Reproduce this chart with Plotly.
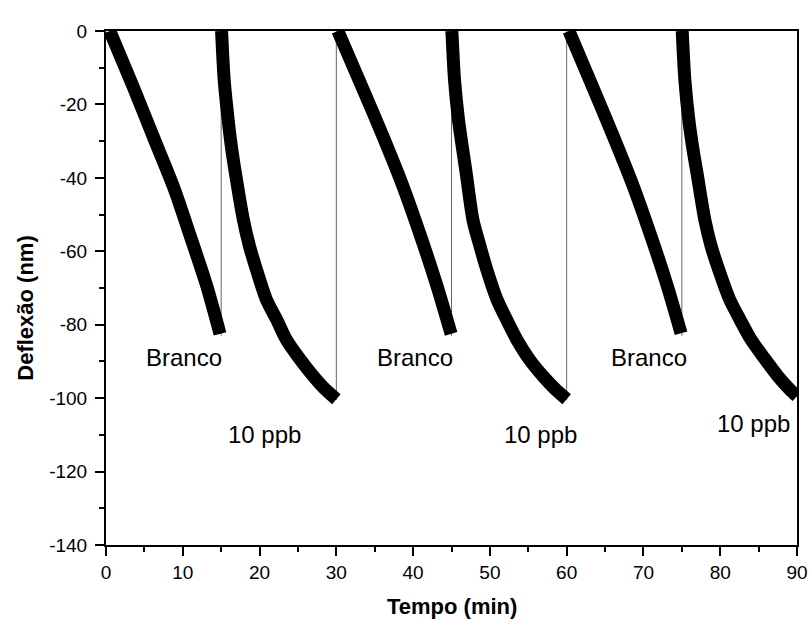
import plotly.graph_objects as go

# tempo (min) / deflexao (nm)
branco1_t = [0.5, 3.5, 6.2, 8.8, 11.0, 13.1, 14.85]
branco1_y = [0, -15, -29, -42.5, -56, -69.3, -82.5]
ppb1_t = [15.05, 15.4, 15.9, 16.3, 16.8, 17.9, 18.7, 19.6, 20.9, 22.2, 23.5, 25.3, 27.0, 28.5, 30.0]
ppb1_y = [0, -13.5, -24, -31, -38, -51.5, -58.7, -65, -73.2, -78.5, -84.1, -89.5, -94, -97.5, -100.3]

branco2_t = [30.2, 33.5, 36.1, 38.7, 41.0, 43.1, 44.95]
branco2_y = [0, -16, -28.8, -42.4, -56, -69.4, -82.5]
ppb2_t = [45.05, 45.4, 45.9, 46.4, 46.9, 47.8, 48.7, 49.6, 50.9, 52.2, 53.5, 55.2, 57.0, 58.5, 60.0]
ppb2_y = [0, -13.5, -24, -31.5, -38.5, -51.5, -58.5, -65, -73, -78.7, -84, -89.6, -94.2, -97.5, -100.3]

branco3_t = [60.3, 63.5, 66.1, 68.7, 71.0, 73.1, 74.9]
branco3_y = [0, -15.8, -28.8, -42.4, -56, -69.4, -82.3]
ppb3_t = [75.05, 75.4, 75.9, 76.4, 77.0, 78.0, 78.8, 79.8, 81.2, 82.6, 84.0, 85.7, 87.5, 89.0, 90.0]
ppb3_y = [0, -13.5, -24, -31.5, -39, -51.5, -58.5, -65, -73, -78.7, -84, -89, -94, -97.5, -99.5]

# thin connecting lines between runs
jump_t = [15, 30, 45, 60, 75]
jump_bottom = [-83, -100.5, -83, -100.5, -83]

labels = ["Branco", "10 ppb", "Branco", "10 ppb", "Branco", "10 ppb"]
label_t = [10.2, 20.7, 40.2, 56.6, 70.7, 84.3]
label_y = [-88.8, -110, -88.8, -110, -88.8, -107]

y_ticks = [0, -20, -40, -60, -80, -100, -120, -140]
y_ticktext = ["0", "-20", "-40", "-60", "-80", "-100", "-120", "-140"]

FONT = "Arial, Liberation Sans, sans-serif"

fig = go.Figure()

jx, jy = [], []
for t, b in zip(jump_t, jump_bottom):
    jx += [t, t, None]
    jy += [b, 0, None]
fig.add_trace(go.Scatter(x=jx, y=jy, mode="lines",
                         line=dict(color="#666666", width=1), hoverinfo="skip"))

segments = [
    (branco1_t, branco1_y), (ppb1_t, ppb1_y),
    (branco2_t, branco2_y), (ppb2_t, ppb2_y),
    (branco3_t, branco3_y), (ppb3_t, ppb3_y),
]
for t, y in segments:
    fig.add_trace(go.Scatter(x=t, y=y, mode="lines",
                             line=dict(color="black", width=13, shape="spline", smoothing=0.8)))

for txt, t, y in zip(labels, label_t, label_y):
    fig.add_annotation(x=t, y=y, text=txt, showarrow=False,
                       font=dict(family=FONT, size=24, color="black"))

fig.add_annotation(xref="paper", yref="paper", x=0.5, y=-0.119, yanchor="middle",
                   text="<b>Tempo (min)</b>", showarrow=False,
                   font=dict(family=FONT, size=22, color="black"))
fig.add_annotation(xref="paper", yref="paper", x=-0.117, xanchor="center",
                   y=0.46, text="<b>Deflexão (nm)</b>", showarrow=False, textangle=-90,
                   font=dict(family=FONT, size=22, color="black"))

axis_common = dict(
    showline=True, linecolor="black", linewidth=2, mirror=True,
    ticks="outside", ticklen=9, tickwidth=2, tickcolor="black",
    showgrid=False, zeroline=False, automargin=False,
    tickfont=dict(family=FONT, size=19, color="black"),
)
fig.update_xaxes(range=[0, 90], dtick=10, tick0=0,
                 minor=dict(dtick=5, ticks="outside", ticklen=5, tickwidth=2, tickcolor="black"),
                 **axis_common)
fig.update_yaxes(range=[-140, 0], tickvals=y_ticks, ticktext=y_ticktext, ticklabelstandoff=4,
                 minor=dict(dtick=10, ticks="outside", ticklen=5, tickwidth=2, tickcolor="black"),
                 **axis_common)

fig.update_layout(
    width=809, height=621,
    margin=dict(l=106, r=12, t=31, b=76),
    plot_bgcolor="white", paper_bgcolor="white",
    showlegend=False,
)

fig.write_html("out.html", config={"displayModeBar": False},
               post_script="document.body.style.margin='0';")
